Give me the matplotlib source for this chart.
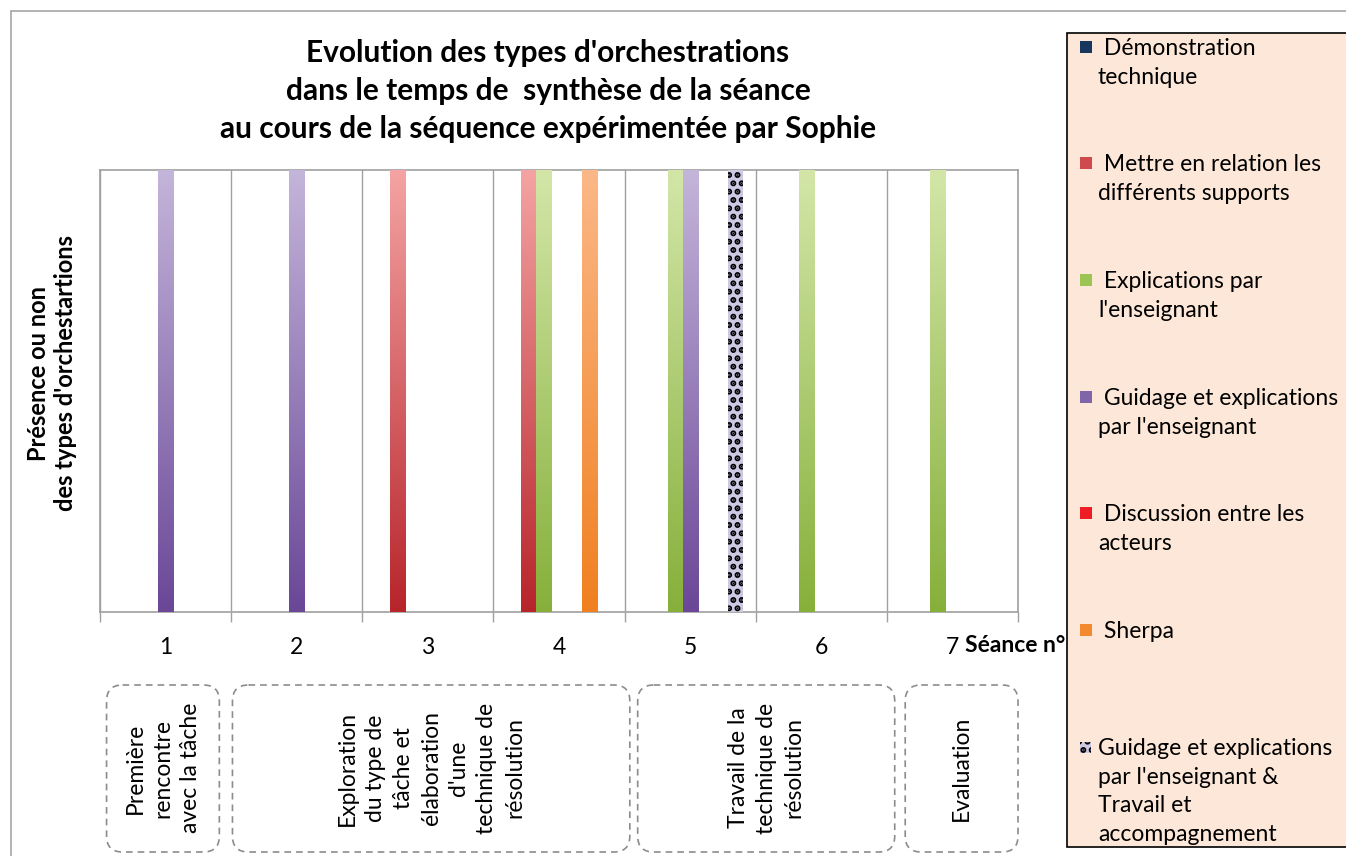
import numpy as np
import matplotlib
matplotlib.use("Agg")
import matplotlib.pyplot as plt
from matplotlib.patches import Rectangle, FancyBboxPatch
from matplotlib.colors import LinearSegmentedColormap
import matplotlib.transforms as mtransforms

plt.rcParams['font.family'] = ['Lato', 'DejaVu Sans']
plt.rcParams['hatch.linewidth'] = 3.0

# sessions (Séance n°)
seances = [1, 2, 3, 4, 5, 6, 7]

# legend / series names
series = ["Démonstration\ntechnique",
          "Mettre en relation les\ndifférents supports",
          "Explications par\nl'enseignant",
          "Guidage et explications\npar l'enseignant",
          "Discussion entre les\nacteurs",
          "Sherpa",
          "Guidage et explications\npar l'enseignant &\nTravail et\naccompagnement"]

# presence (1) or absence (0) of each orchestration type per session
demonstration = [0, 0, 0, 0, 0, 0, 0]
mettre_relation = [0, 0, 1, 1, 0, 0, 0]
explications = [0, 0, 0, 1, 1, 1, 1]
guidage = [1, 1, 0, 0, 1, 0, 0]
discussion = [0, 0, 0, 0, 0, 0, 0]
sherpa = [0, 0, 0, 1, 0, 0, 0]
guidage_travail = [0, 0, 0, 0, 1, 0, 0]
values = [demonstration, mettre_relation, explications, guidage,
          discussion, sherpa, guidage_travail]

# gradient colours (top, bottom); None -> dotted pattern
grad = [("#4a6fa5", "#17375e"),
        ("#f4a3a3", "#b7252b"),
        ("#d3e6a8", "#86b03a"),
        ("#c4b5da", "#6a4797"),
        ("#f45a5a", "#e8151f"),
        ("#fbb887", "#f08020"),
        None]
legend_colors = ["#17375e", "#cf4a4e", "#9bc453", "#8066a8", "#ee1c25", "#f48a30", "#cfc8e3"]

# phases under the x axis
phases = ["Première\nrencontre\navec la tâche",
          "Exploration\ndu type de\ntâche et\nélaboration\nd'une\ntechnique de\nrésolution",
          "Travail de la\ntechnique de\nrésolution",
          "Evaluation"]
phase_start = [1, 2, 5, 7]
phase_end = [1, 4, 6, 7]

W, H = 1346, 856
fig = plt.figure(figsize=(W / 100, H / 100), dpi=100)

def fx(px):
    return px / W

def fy(py):
    return 1 - py / H

# outer frame
fig.patches.append(Rectangle((fx(11), -0.1), 1.2, fy(11) + 0.1, transform=fig.transFigure,
                             fill=False, edgecolor="#a6a6a6", lw=1.2))

ax = fig.add_axes([fx(100), fy(612), fx(1018) - fx(100), fy(170) - fy(612)])
x = np.arange(len(seances)) + 1
bw = 0.1145

for j, vals in enumerate(values):
    pos = x + (j - 3) * bw
    bars = ax.bar(pos, vals, width=bw, color=legend_colors[j], edgecolor="none", zorder=3)
    for b, v in zip(bars, vals):
        if v == 0:
            continue
        if grad[j] is None:
            b.set_facecolor("#cfc8e3")
            b.set_hatch("..")
            b.set_edgecolor("black")
            b.set_linewidth(0)
            continue
        cmap = LinearSegmentedColormap.from_list("g%d" % j, [grad[j][1], grad[j][0]])
        g = np.linspace(0, 1, 256).reshape(-1, 1)
        bx, by = b.get_x(), b.get_y()
        im = ax.imshow(g, cmap=cmap, origin="lower", aspect="auto",
                       extent=[bx, bx + b.get_width(), by, by + b.get_height()], zorder=3.5)
        im.set_clip_path(b)

ax.set_xlim(0.5, 7.5)
ax.set_ylim(0, 1)
ax.set_xticks(x)
ax.set_xticklabels([str(s) for s in seances], fontsize=16.5)
ax.set_xticks(np.arange(0.5, 8, 1), minor=True)
ax.tick_params(axis="x", which="major", length=0, pad=18)
ax.tick_params(axis="x", which="minor", length=7, color="#a0a0a0", width=1)
ax.set_yticks([])
ax.grid(axis="x", which="minor", color="#a0a0a0", lw=1, zorder=1)
for s in ax.spines.values():
    s.set_color("#a0a0a0")
    s.set_linewidth(1.2)

fig.text(fx(965), fy(645), "Séance n°", fontsize=16.5,
         fontweight="bold", ha="left", va="center")

fig.text(fx(52), fy(373), "Présence ou non\ndes types d'orchestartions", rotation=90,
         ha="center", va="center", fontsize=17, fontweight="bold", multialignment="center",
         linespacing=1.2)

fig.text(fx(548), fy(91), "Evolution des types d'orchestrations\ndans le temps de  synthèse de la séance\n"
         "au cours de la séquence expérimentée par Sophie", ha="center", va="center",
         fontsize=21.5, fontweight="bold", linespacing=1.45)

# phase boxes, drawn in display pixels (y measured from the top)
pix = mtransforms.Affine2D().scale(1, -1).translate(0, H)
pad_l = [0.45, 0.49, 0.40, 0.36]
pad_r = [0.41, 0.54, 0.56, 0.50]
for lab, a, b, pl, pr in zip(phases, phase_start, phase_end, pad_l, pad_r):
    x0 = ax.transData.transform((a - pl, 0))[0]
    x1 = ax.transData.transform((b + pr, 0))[0]
    box = FancyBboxPatch((x0, 685), x1 - x0, 167,
                         boxstyle="round,pad=0,rounding_size=16",
                         transform=pix, fill=False, edgecolor="#8c8c8c",
                         lw=1.2, ls=(0, (4, 3)))
    fig.patches.append(box)
    fig.text(fx((x0 + x1) / 2), fy(768), lab, rotation=90, ha="center",
             va="center", fontsize=16.5, multialignment="center", linespacing=1.4)

# legend panel
fig.patches.append(Rectangle((fx(1067), fy(847)), 1.0, fy(33) - fy(847), transform=fig.transFigure,
                             facecolor="#fce7d8", edgecolor="black", lw=1.2))
ly = [47, 163, 280, 397, 513, 630, 747]
for j, (name, y) in enumerate(zip(series, ly)):
    if grad[j] is None:
        sq = Rectangle((fx(1080), fy(y + 6)), fx(11), fy(y - 5) - fy(y + 6), transform=fig.transFigure,
                       facecolor="#cfc8e3", edgecolor="black", hatch="..", lw=0)
    else:
        sq = Rectangle((fx(1080), fy(y + 6)), fx(12), fy(y - 6) - fy(y + 6), transform=fig.transFigure,
                       facecolor=legend_colors[j], edgecolor="none")
    fig.patches.append(sq)
    lines = name.split("\n")
    txt = ("" if grad[j] is None else " ") + lines[0]
    if len(lines) > 1:
        txt += "\n" + "\n".join(lines[1:])
    fig.text(fx(1098), fy(y - 9), txt, ha="left", va="top", fontsize=16.5, linespacing=1.45)

fig.savefig("out.png", dpi=100)
